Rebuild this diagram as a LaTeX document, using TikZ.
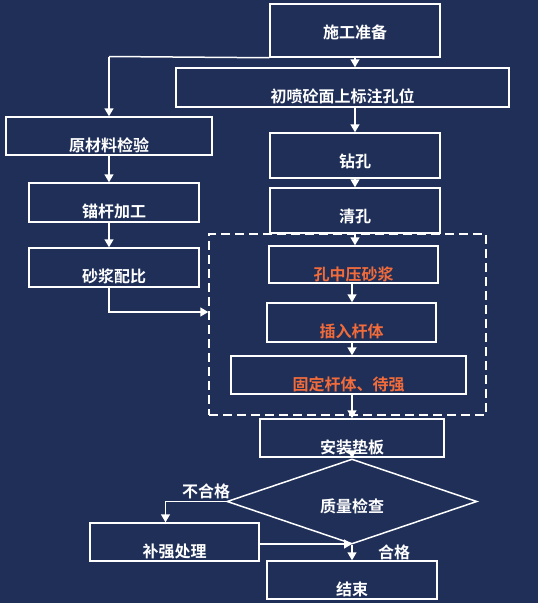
\documentclass[tikz,border=0pt]{standalone}
\usepackage{fontspec}
\newfontfamily\cjk{Noto Sans CJK SC}[BoldFont={Noto Sans CJK SC Bold}]
\usetikzlibrary{arrows.meta,shapes.geometric}
\definecolor{bgblue}{HTML}{1F2F58}
\definecolor{hot}{HTML}{F26B3A}
\tikzstyle{every node}=[font=\cjk\bfseries\fontsize{16}{18}\selectfont,text=white]
\tikzstyle{box}=[draw=white,line width=1.5pt,inner sep=0pt,text height=34pt,text depth=#1]

\begin{document}
\begin{tikzpicture}[x=1pt,y=-1pt,>={Triangle[width=9pt,length=8pt]},line width=1.5pt,white]
	\fill[bgblue] (0,0) rectangle (538,603);
	\useasboundingbox (0,0) rectangle (538,603);
	\node(sg)[box=19pt,minimum width=170pt] at (355,30.5){施工准备};
	\node(cp)[box=5pt,minimum width=333pt] at (342.5,87.5){初喷砼面上标注孔位};
	\node(ycl)[box=4pt,minimum width=206pt] at (109,136){原材料检验};
	\node(zk)[box=11pt,minimum width=170pt] at (355,155.5){钻孔};
	\node(qk)[box=11pt,minimum width=170pt] at (355,210.5){清孔};
	\node(mg)[box=5pt,minimum width=170pt] at (114,202.5){锚杆加工};
	\node(sj)[box=5pt,minimum width=170pt] at (114,267.5){砂浆配比};
	\node(yj)[box=3pt,minimum width=169pt,text=hot] at (353.5,264.5){孔中压砂浆};
	\node(cr)[box=5pt,minimum width=169pt,text=hot] at (351.5,322.5){插入杆体};
	\node(gd)[box=4pt,minimum width=235pt,text=hot] at (348.5,375){固定杆体、待强};
	\node(grp)[draw=white,dashed,dash pattern=on 9pt off 5pt,line width=1.5pt,minimum width=277pt,minimum height=181pt] at (347.5,324.5){};
	\node(az)[box=4pt,minimum width=184pt] at (352,438){安装垫板};
	\node(zl)[draw=white,line width=1.5pt,diamond,inner sep=0pt,minimum width=250pt,minimum height=53pt,text height=21pt,text depth=0pt] at (352,501.5){质量检查};
	\node(bq)[box=4pt,minimum width=169pt] at (174.5,542){补强处理};
	\node(js)[box=4pt,minimum width=170pt] at (352,580){结束};
	\node(bhg) at (206,491){不合格};
	\node(hg) at (394,552){合格};

	\path[->]       (sg.south) edge (sg.south |- cp.north)
	                (sg.south west) edge[-] (109,56.5)
	                (109,56.5) edge (ycl.north)
	                (cp.south -| sg) edge (sg.south |- zk.north)
	                (zk.south) edge (qk.north)
	                (qk.south) edge (qk.south |- yj.north)
	                (ycl.south) edge (ycl.south |- mg.north)
	                (ycl.south |- mg.south) edge (ycl.south |- sj.north)
	                (yj.south -| az) edge (az |- cr.north)
	                (cr.south -| az) edge (az |- gd.north)
	                (gd.south -| az) edge (az.north)
	                (az.south) edge (zl.north)
	                (zl.south) edge (js.north);
	\draw[->] (ycl.south |- sj.south) |- ([yshift=12.5pt]grp.west);
	\draw[->] (zl.west) -| ([xshift=-9pt]bq.north);
	\draw[->] ([yshift=-2pt]bq.east) -- ([yshift=-2pt]bq.east -| js.north);
\end{tikzpicture}
\end{document}
